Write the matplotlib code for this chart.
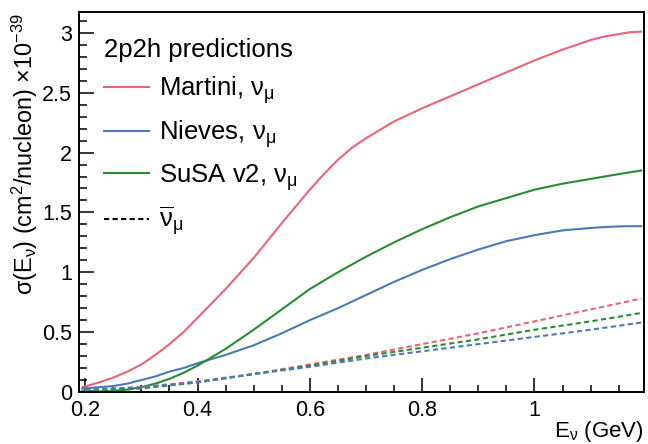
# -*- coding: utf-8 -*-
"""
2p2h cross-section predictions vs neutrino energy (ROOT-like style)
"""

import matplotlib
matplotlib.use("Agg")
import matplotlib.pyplot as plt
from matplotlib.lines import Line2D
from matplotlib.ticker import MultipleLocator, FormatStrFormatter

plt.rcParams['font.family'] = ['Liberation Sans', 'DejaVu Sans']
plt.rcParams['mathtext.default'] = 'regular'

# Energies (GeV)
energy = [0.195, 0.225, 0.25, 0.275, 0.3, 0.325, 0.35, 0.375, 0.4, 0.45, 0.5,
          0.55, 0.6, 0.625, 0.65, 0.675, 0.7, 0.725, 0.75, 0.8, 0.85, 0.9,
          0.95, 1.0, 1.05, 1.1, 1.125, 1.15, 1.17, 1.19]

# neutrino curves (x1e-39 cm^2/nucleon)
martini_nu = [0.04, 0.08, 0.12, 0.17, 0.23, 0.31, 0.40, 0.50, 0.62, 0.86, 1.12,
              1.41, 1.69, 1.82, 1.94, 2.04, 2.12, 2.19, 2.26, 2.37, 2.47, 2.57,
              2.67, 2.77, 2.86, 2.94, 2.97, 2.99, 3.005, 3.01]
nieves_nu = [0.03, 0.04, 0.05, 0.07, 0.10, 0.13, 0.17, 0.20, 0.24, 0.31, 0.39,
             0.49, 0.60, 0.65, 0.70, 0.755, 0.81, 0.865, 0.92, 1.02, 1.11, 1.19,
             1.26, 1.31, 1.35, 1.37, 1.378, 1.383, 1.385, 1.385]
susa_nu = [0.01, 0.005, 0.01, 0.02, 0.04, 0.07, 0.11, 0.16, 0.22, 0.36, 0.52,
           0.69, 0.86, 0.93, 1.00, 1.065, 1.13, 1.19, 1.25, 1.36, 1.46, 1.55,
           1.62, 1.69, 1.74, 1.78, 1.80, 1.82, 1.835, 1.85]

# antineutrino curves
energy_bar = [0.2, 0.3, 0.4, 0.5, 0.6, 0.7, 0.8, 0.9, 1.0, 1.1, 1.19]
martini_nubar = [0.01, 0.04, 0.09, 0.15, 0.23, 0.31, 0.40, 0.49, 0.59, 0.69, 0.78]
nieves_nubar = [0.02, 0.04, 0.08, 0.15, 0.21, 0.28, 0.34, 0.40, 0.46, 0.52, 0.58]
susa_nubar = [0.0, 0.03, 0.08, 0.15, 0.22, 0.30, 0.37, 0.44, 0.52, 0.59, 0.66]

c_martini = '#ea6477'
c_nieves = '#4a7bb5'
c_susa = '#2a8c30'

fig = plt.figure(figsize=(6.48, 4.44), dpi=100)
ax = fig.add_axes([79/648, 1 - 392/444, (644 - 79)/648, (392 - 12.5)/444])

lw = 1.5
ax.plot(energy, martini_nu, color=c_martini, lw=lw)
ax.plot(energy, nieves_nu, color=c_nieves, lw=lw)
ax.plot(energy, susa_nu, color=c_susa, lw=lw)

dash = (0, (2.5, 1.6))
ax.plot(energy_bar, martini_nubar, color=c_martini, lw=lw, ls=dash)
ax.plot(energy_bar, susa_nubar, color=c_susa, lw=lw, ls=dash)
ax.plot(energy_bar, nieves_nubar, color=c_nieves, lw=lw, ls=dash)

ax.set_xlim(0.189, 1.195)
ax.set_ylim(0, 3.17)

ax.xaxis.set_major_locator(MultipleLocator(0.2))
ax.xaxis.set_minor_locator(MultipleLocator(0.05))
ax.yaxis.set_major_locator(MultipleLocator(0.5))
ax.yaxis.set_minor_locator(MultipleLocator(0.1))
ax.xaxis.set_major_formatter(FormatStrFormatter('%g'))
ax.yaxis.set_major_formatter(FormatStrFormatter('%g'))

ax.tick_params(axis='both', which='both', direction='in', top=False, right=False,
               labelsize=15.5, width=1.1)
ax.tick_params(axis='x', which='major', length=10, pad=6)
ax.tick_params(axis='x', which='minor', length=5)
ax.tick_params(axis='y', which='major', length=11, pad=5)
ax.tick_params(axis='y', which='minor', length=5.5)
for s in ax.spines.values():
    s.set_linewidth(1.4)

ax.set_xlabel('E$_{ν}$ (GeV)', fontsize=16, loc='right', labelpad=-2)
fig.text(25/648, 1 - 13/444, 'σ(E$_{ν}$) (cm$^{2}$/nucleon) ×10$^{-39}$',
         rotation=90, ha='center', va='top', fontsize=16.8)

handles = [Line2D([], [], color=c_martini, lw=lw),
           Line2D([], [], color=c_nieves, lw=lw),
           Line2D([], [], color=c_susa, lw=lw),
           Line2D([], [], color='black', lw=lw, ls=dash)]
labels = ['Martini, ν$_{μ}$', 'Nieves, ν$_{μ}$', 'SuSA v2, ν$_{μ}$',
          '$\\overline{ν}_{μ}$']
leg = ax.legend(handles, labels, loc='upper left', bbox_to_anchor=(0.044, 0.932),
                frameon=False, fontsize=18.5, title='2p2h predictions',
                title_fontsize=18.5, alignment='left', handlelength=1.75,
                handletextpad=0.39, labelspacing=0.47, borderpad=0,
                borderaxespad=0)

fig.savefig('out.png', dpi=100)
